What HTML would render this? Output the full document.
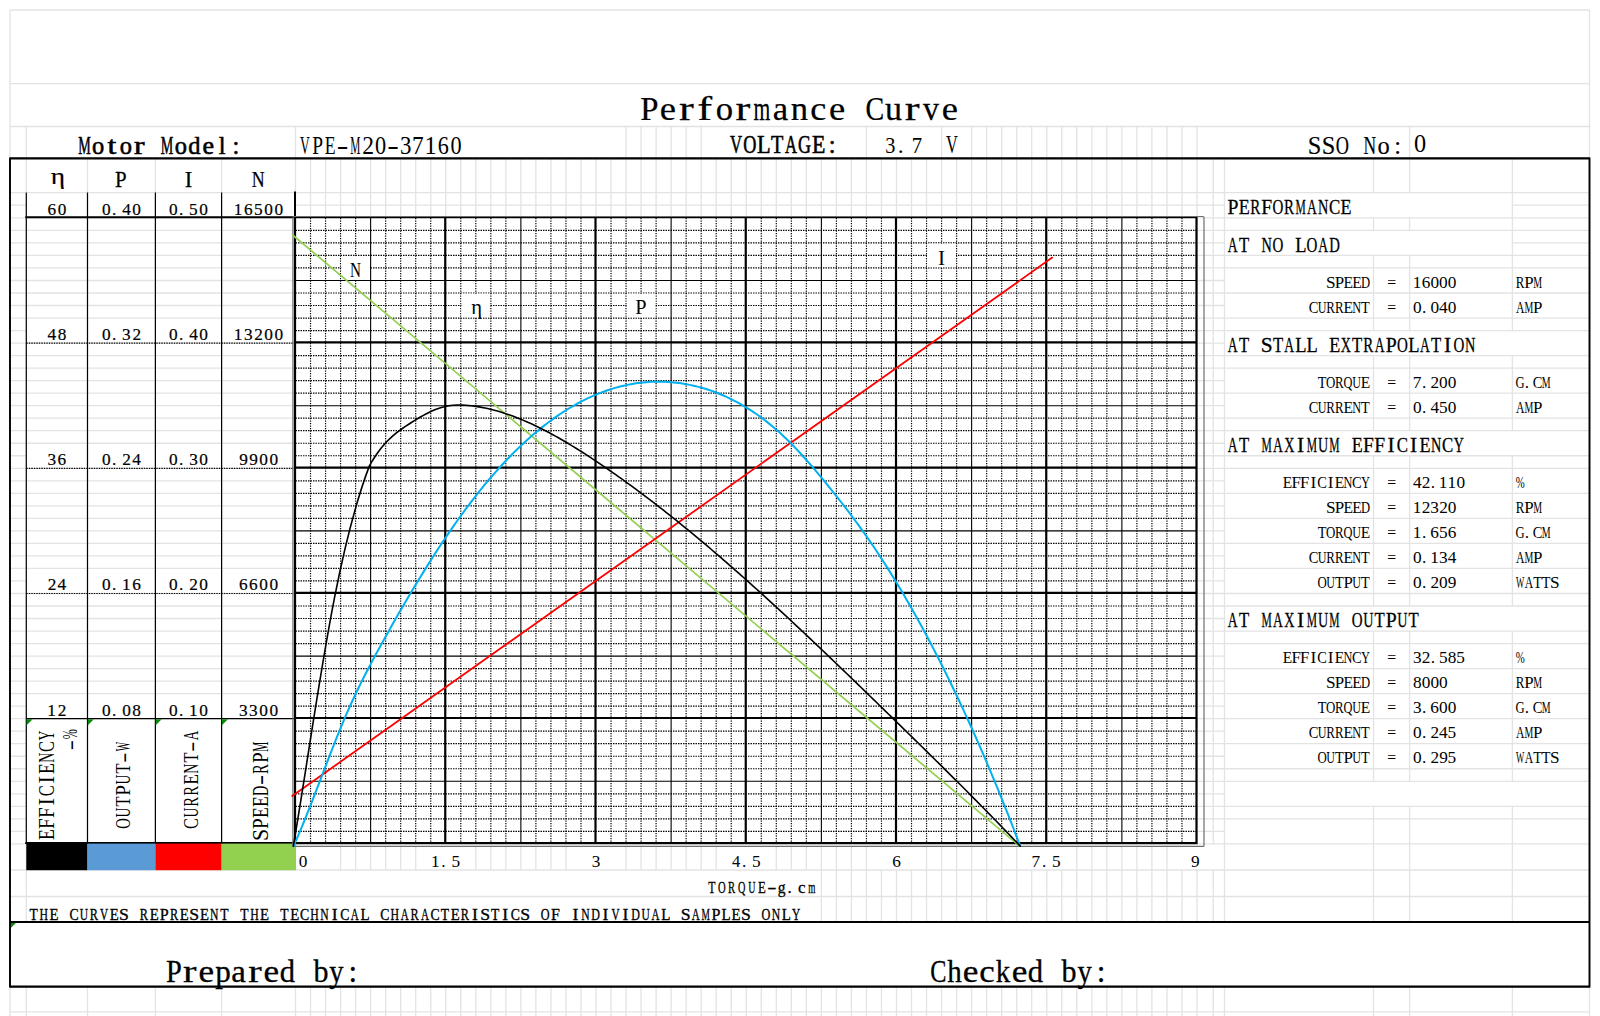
<!DOCTYPE html>
<html><head><meta charset="utf-8"><title>Performance Curve</title>
<style>html,body{margin:0;padding:0;background:#fff;overflow:hidden;font-family:"Liberation Serif",serif}svg{display:block}</style>
</head><body>
<svg width="1600" height="1016" viewBox="0 0 1600 1016"><path d="M10.00 10.00H1589.50 M10.00 83.70H1589.50 M10.00 126.50H1589.50 M10.00 158.40H1589.50 M10.00 192.60H1589.50 M10.00 205.20H26.30 M295.50 205.20H1224.50 M1512.40 205.20H1589.50 M10.00 217.88H295.50 M1197.00 217.88H1589.50 M10.00 230.40H295.50 M1197.00 230.40H1589.50 M10.00 242.92H295.50 M1197.00 242.92H1224.50 M1512.40 242.92H1589.50 M10.00 255.44H295.50 M1197.00 255.44H1589.50 M10.00 267.96H295.50 M1197.00 267.96H1589.50 M10.00 280.48H295.50 M1197.00 280.48H1224.50 M10.00 293.00H295.50 M1197.00 293.00H1589.50 M10.00 305.52H295.50 M1197.00 305.52H1224.50 M10.00 318.04H295.50 M1197.00 318.04H1589.50 M10.00 330.56H26.30 M1197.00 330.56H1589.50 M10.00 343.08H295.50 M1197.00 343.08H1224.50 M10.00 355.60H295.50 M1197.00 355.60H1589.50 M10.00 368.12H295.50 M1197.00 368.12H1589.50 M10.00 380.64H295.50 M1197.00 380.64H1224.50 M10.00 393.16H295.50 M1197.00 393.16H1589.50 M10.00 405.68H295.50 M1197.00 405.68H1224.50 M10.00 418.20H295.50 M1197.00 418.20H1589.50 M10.00 430.72H295.50 M1197.00 430.72H1589.50 M10.00 443.24H295.50 M1197.00 443.24H1224.50 M10.00 455.76H26.30 M1197.00 455.76H1589.50 M10.00 468.28H295.50 M1197.00 468.28H1589.50 M10.00 480.80H295.50 M1197.00 480.80H1224.50 M10.00 493.32H295.50 M1197.00 493.32H1589.50 M10.00 505.84H295.50 M1197.00 505.84H1224.50 M10.00 518.36H295.50 M1197.00 518.36H1589.50 M10.00 530.88H295.50 M1197.00 530.88H1224.50 M10.00 543.40H295.50 M1197.00 543.40H1589.50 M10.00 555.92H295.50 M1197.00 555.92H1224.50 M10.00 568.44H295.50 M1197.00 568.44H1589.50 M10.00 580.96H26.30 M1197.00 580.96H1224.50 M10.00 593.48H295.50 M1197.00 593.48H1589.50 M10.00 606.00H295.50 M1197.00 606.00H1589.50 M10.00 618.52H295.50 M1197.00 618.52H1224.50 M10.00 631.04H295.50 M1197.00 631.04H1589.50 M10.00 643.56H295.50 M1197.00 643.56H1589.50 M10.00 656.08H295.50 M1197.00 656.08H1224.50 M10.00 668.60H295.50 M1197.00 668.60H1589.50 M10.00 681.12H295.50 M1197.00 681.12H1224.50 M10.00 693.64H295.50 M1197.00 693.64H1589.50 M10.00 706.16H26.30 M1197.00 706.16H1224.50 M10.00 718.68H295.50 M1197.00 718.68H1589.50 M10.00 731.20H26.30 M1197.00 731.20H1224.50 M10.00 743.72H26.30 M1197.00 743.72H1589.50 M10.00 756.24H26.30 M1197.00 756.24H1224.50 M10.00 768.76H26.30 M1197.00 768.76H1589.50 M10.00 781.28H26.30 M1197.00 781.28H1589.50 M10.00 793.80H26.30 M1197.00 793.80H1224.50 M10.00 806.32H26.30 M1197.00 806.32H1589.50 M10.00 818.84H26.30 M1197.00 818.84H1589.50 M10.00 831.36H26.30 M1197.00 831.36H1224.50 M10.00 843.88H295.50 M1197.00 843.88H1589.50 M10.00 870.00H1589.50 M10.00 896.50H1589.50 M10.00 922.00H1589.50 M10.00 986.60H1589.50 M10.00 1011.80H1589.50 M10.00 10.00V1016.00 M26.30 126.50V922.00 M26.30 986.60V1016.00 M87.50 158.40V870.00 M87.50 986.60V1016.00 M155.40 158.40V870.00 M155.40 986.60V1016.00 M221.60 158.40V870.00 M221.60 986.60V1016.00 M295.50 126.50V870.00 M295.50 986.60V1016.00 M310.52 158.40V217.30 M310.52 986.60V1016.00 M325.55 158.40V217.30 M325.55 986.60V1016.00 M340.57 158.40V217.30 M340.57 845.38V870.00 M340.57 986.60V1016.00 M355.60 158.40V217.30 M355.60 845.38V870.00 M355.60 986.60V1016.00 M370.62 158.40V217.30 M370.62 845.38V870.00 M370.62 986.60V1016.00 M385.65 158.40V217.30 M385.65 845.38V870.00 M385.65 986.60V1016.00 M400.68 158.40V217.30 M400.68 845.38V870.00 M400.68 986.60V1016.00 M415.70 158.40V217.30 M415.70 845.38V870.00 M415.70 986.60V1016.00 M430.73 158.40V217.30 M430.73 986.60V1016.00 M445.75 158.40V217.30 M445.75 986.60V1016.00 M460.77 158.40V217.30 M460.77 986.60V1016.00 M475.80 158.40V217.30 M475.80 845.38V870.00 M475.80 986.60V1016.00 M490.83 158.40V217.30 M490.83 845.38V870.00 M490.83 986.60V1016.00 M505.85 158.40V217.30 M505.85 845.38V870.00 M505.85 986.60V1016.00 M520.88 158.40V217.30 M520.88 845.38V870.00 M520.88 986.60V1016.00 M535.90 158.40V217.30 M535.90 845.38V870.00 M535.90 986.60V1016.00 M550.92 158.40V217.30 M550.92 845.38V870.00 M550.92 986.60V1016.00 M565.95 158.40V217.30 M565.95 845.38V870.00 M565.95 986.60V1016.00 M580.98 158.40V217.30 M580.98 986.60V1016.00 M596.00 158.40V217.30 M596.00 986.60V1016.00 M611.03 158.40V217.30 M611.03 986.60V1016.00 M626.05 126.50V217.30 M626.05 845.38V870.00 M626.05 986.60V1016.00 M641.08 126.50V217.30 M641.08 845.38V870.00 M641.08 986.60V1016.00 M656.10 126.50V217.30 M656.10 845.38V870.00 M656.10 986.60V1016.00 M671.12 126.50V217.30 M671.12 845.38V870.00 M671.12 986.60V1016.00 M686.15 126.50V217.30 M686.15 845.38V870.00 M686.15 986.60V1016.00 M701.17 126.50V217.30 M701.17 845.38V870.00 M701.17 986.60V1016.00 M716.20 158.40V217.30 M716.20 845.38V870.00 M716.20 986.60V1016.00 M731.23 158.40V217.30 M731.23 986.60V1016.00 M746.25 158.40V217.30 M746.25 986.60V1016.00 M761.28 158.40V217.30 M761.28 986.60V1016.00 M776.30 158.40V217.30 M776.30 845.38V870.00 M776.30 986.60V1016.00 M791.33 158.40V217.30 M791.33 845.38V870.00 M791.33 986.60V1016.00 M806.35 158.40V217.30 M806.35 845.38V870.00 M806.35 986.60V1016.00 M821.38 158.40V217.30 M821.38 845.38V922.00 M821.38 986.60V1016.00 M836.40 158.40V217.30 M836.40 845.38V922.00 M836.40 986.60V1016.00 M851.43 158.40V217.30 M851.43 845.38V922.00 M851.43 986.60V1016.00 M866.45 126.50V217.30 M866.45 845.38V922.00 M866.45 986.60V1016.00 M881.48 158.40V217.30 M881.48 870.00V922.00 M881.48 986.60V1016.00 M896.50 158.40V217.30 M896.50 870.00V922.00 M896.50 986.60V1016.00 M911.52 158.40V217.30 M911.52 870.00V922.00 M911.52 986.60V1016.00 M926.55 158.40V217.30 M926.55 845.38V922.00 M926.55 986.60V1016.00 M941.58 126.50V217.30 M941.58 845.38V922.00 M941.58 986.60V1016.00 M956.60 158.40V217.30 M956.60 845.38V922.00 M956.60 986.60V1016.00 M971.62 126.50V217.30 M971.62 845.38V922.00 M971.62 986.60V1016.00 M986.65 126.50V217.30 M986.65 845.38V922.00 M986.65 986.60V1016.00 M1001.68 126.50V217.30 M1001.68 845.38V922.00 M1001.68 986.60V1016.00 M1016.70 126.50V217.30 M1016.70 845.38V922.00 M1016.70 986.60V1016.00 M1031.72 126.50V217.30 M1031.72 870.00V922.00 M1031.72 986.60V1016.00 M1046.75 126.50V217.30 M1046.75 870.00V922.00 M1046.75 986.60V1016.00 M1061.78 126.50V217.30 M1061.78 870.00V922.00 M1061.78 986.60V1016.00 M1076.80 126.50V217.30 M1076.80 845.38V922.00 M1076.80 986.60V1016.00 M1091.83 126.50V217.30 M1091.83 845.38V922.00 M1091.83 986.60V1016.00 M1106.85 126.50V217.30 M1106.85 845.38V922.00 M1106.85 986.60V1016.00 M1121.88 126.50V217.30 M1121.88 845.38V922.00 M1121.88 986.60V1016.00 M1136.90 126.50V217.30 M1136.90 845.38V922.00 M1136.90 986.60V1016.00 M1151.93 126.50V217.30 M1151.93 845.38V922.00 M1151.93 986.60V1016.00 M1166.95 126.50V217.30 M1166.95 845.38V922.00 M1166.95 986.60V1016.00 M1181.97 126.50V217.30 M1181.97 870.00V922.00 M1181.97 986.60V1016.00 M1197.00 126.50V843.88 M1197.00 870.00V922.00 M1197.00 986.60V1016.00 M1213.30 158.40V843.88 M1213.30 870.00V922.00 M1213.30 986.60V1016.00 M1224.50 158.40V922.00 M1224.50 986.60V1016.00 M1373.50 158.40V192.60 M1373.50 217.88V230.40 M1373.50 255.44V330.56 M1373.50 355.60V430.72 M1373.50 455.76V606.00 M1373.50 631.04V781.28 M1373.50 806.32V922.00 M1373.50 986.60V1016.00 M1409.60 126.50V192.60 M1409.60 217.88V230.40 M1409.60 255.44V330.56 M1409.60 355.60V430.72 M1409.60 455.76V606.00 M1409.60 631.04V781.28 M1409.60 806.32V922.00 M1409.60 986.60V1016.00 M1512.40 158.40V330.56 M1512.40 355.60V430.72 M1512.40 455.76V606.00 M1512.40 631.04V781.28 M1512.40 806.32V922.00 M1512.40 986.60V1016.00 M1589.50 10.00V1016.00" stroke="#e3e3e3" stroke-width="1.3" fill="none"/>
<path d="M310.52 217.88V843.88 M325.55 217.88V843.88 M340.57 217.88V843.88 M355.60 217.88V843.88 M385.65 217.88V843.88 M400.68 217.88V843.88 M415.70 217.88V843.88 M430.73 217.88V843.88 M460.77 217.88V843.88 M475.80 217.88V843.88 M490.83 217.88V843.88 M505.85 217.88V843.88 M535.90 217.88V843.88 M550.92 217.88V843.88 M565.95 217.88V843.88 M580.98 217.88V843.88 M611.03 217.88V843.88 M626.05 217.88V843.88 M641.08 217.88V843.88 M656.10 217.88V843.88 M686.15 217.88V843.88 M701.17 217.88V843.88 M716.20 217.88V843.88 M731.23 217.88V843.88 M761.28 217.88V843.88 M776.30 217.88V843.88 M791.33 217.88V843.88 M806.35 217.88V843.88 M836.40 217.88V843.88 M851.43 217.88V843.88 M866.45 217.88V843.88 M881.48 217.88V843.88 M911.52 217.88V843.88 M926.55 217.88V843.88 M941.58 217.88V843.88 M956.60 217.88V843.88 M986.65 217.88V843.88 M1001.68 217.88V843.88 M1016.70 217.88V843.88 M1031.72 217.88V843.88 M1061.78 217.88V843.88 M1076.80 217.88V843.88 M1091.83 217.88V843.88 M1106.85 217.88V843.88 M1136.90 217.88V843.88 M1151.93 217.88V843.88 M1166.95 217.88V843.88 M1181.97 217.88V843.88" stroke="#000" stroke-width="1.2" stroke-dasharray="1.45 1.05" fill="none"/>
<path d="M295.50 230.40H1197.00 M295.50 242.92H1197.00 M295.50 255.44H1197.00 M295.50 267.96H1197.00 M295.50 293.00H1197.00 M295.50 305.52H1197.00 M295.50 318.04H1197.00 M295.50 330.56H1197.00 M295.50 355.60H1197.00 M295.50 368.12H1197.00 M295.50 380.64H1197.00 M295.50 393.16H1197.00 M295.50 418.20H1197.00 M295.50 430.72H1197.00 M295.50 443.24H1197.00 M295.50 455.76H1197.00 M295.50 480.80H1197.00 M295.50 493.32H1197.00 M295.50 505.84H1197.00 M295.50 518.36H1197.00 M295.50 543.40H1197.00 M295.50 555.92H1197.00 M295.50 568.44H1197.00 M295.50 580.96H1197.00 M295.50 606.00H1197.00 M295.50 618.52H1197.00 M295.50 631.04H1197.00 M295.50 643.56H1197.00 M295.50 668.60H1197.00 M295.50 681.12H1197.00 M295.50 693.64H1197.00 M295.50 706.16H1197.00 M295.50 731.20H1197.00 M295.50 743.72H1197.00 M295.50 756.24H1197.00 M295.50 768.76H1197.00 M295.50 793.80H1197.00 M295.50 806.32H1197.00 M295.50 818.84H1197.00 M295.50 831.36H1197.00" stroke="#000" stroke-width="1.2" stroke-dasharray="1.45 1.05" fill="none"/>
<rect x="341.27" y="256.14" width="28.65" height="23.64" fill="#fff"/>
<rect x="461.47" y="293.70" width="28.65" height="23.64" fill="#fff"/>
<rect x="626.75" y="293.70" width="28.65" height="23.64" fill="#fff"/>
<rect x="927.25" y="243.62" width="28.65" height="23.64" fill="#fff"/>
<path d="M370.62 217.88V843.88 M520.88 217.88V843.88 M671.12 217.88V843.88 M821.38 217.88V843.88 M971.62 217.88V843.88 M1121.88 217.88V843.88 M295.50 280.48H1197.00 M295.50 405.68H1197.00 M295.50 530.88H1197.00 M295.50 656.08H1197.00 M295.50 781.28H1197.00" stroke="#000" stroke-width="1.1" fill="none"/>
<path d="M295.00 216.18V844.18 M445.25 216.18V844.18 M595.50 216.18V844.18 M745.75 216.18V844.18 M896.00 216.18V844.18 M1046.25 216.18V844.18 M1196.50 216.18V844.18 M294.00 217.18H1197.50 M294.00 342.38H1197.50 M294.00 467.58H1197.50 M294.00 592.78H1197.50 M294.00 717.98H1197.50 M294.00 843.10H1197.50" stroke="#000" stroke-width="2.2" fill="none"/>
<path d="M26.3 192.6V843.88 M87.5 192.6V843.88 M155.4 192.6V843.88 M221.6 192.6V843.88" stroke="#000" stroke-width="1.2" fill="none"/>
<path d="M295.0 191.6V217.88 M25.3 217.18H296.0 M25.3 843.1H296.0" stroke="#000" stroke-width="2.0" fill="none"/>
<path d="M26.3 343.08H295.5 M26.3 468.28H295.5 M26.3 593.48H295.5" stroke="#000" stroke-width="1.2" stroke-dasharray="1.45 1.05" fill="none"/>
<path d="M26.3 718.68H295.5" stroke="#000" stroke-width="1.3" fill="none"/>
<rect x="26.3" y="843.60" width="61.20" height="26.60" fill="#000000"/>
<rect x="87.5" y="843.60" width="67.90" height="26.60" fill="#5b9bd5"/>
<rect x="155.4" y="843.60" width="66.20" height="26.60" fill="#ff0000"/>
<rect x="221.6" y="843.60" width="74.40" height="26.60" fill="#92d050"/>
<path d="M26.60 719.28h6l-6 6z" fill="#078a07"/>
<path d="M87.80 719.28h6l-6 6z" fill="#078a07"/>
<path d="M155.70 719.28h6l-6 6z" fill="#078a07"/>
<path d="M221.90 719.28h6l-6 6z" fill="#078a07"/>
<path d="M10.30 922.60h6l-6 6z" fill="#078a07"/>
<rect x="292.9" y="216.5" width="911.1" height="629.9" rx="1" fill="none" stroke="#6e6e6e" stroke-width="1.2"/>
<path d="M10 158.4H1589.5 M10 922H1589.5 M10 986.6H1589.5" stroke="#000" stroke-width="2.2" fill="none"/>
<path d="M10 157.4V987.6 M1589.5 157.4V987.6" stroke="#000" stroke-width="1.9" fill="none"/>
<g fill="none" stroke-linecap="round" stroke-linejoin="round">
<path d="M292.6 235L1019.5 846.0" stroke="#92d050" stroke-width="1.7"/>
<path d="M292.2 796.0L1052.2 257.6" stroke="#ff0000" stroke-width="1.8"/>
<path d="M293.50 846.20 L296.00 840.60 L298.50 834.84 L301.00 828.92 L303.50 822.87 L306.00 816.71 L308.50 810.44 L311.00 804.09 L313.50 797.67 L316.00 791.19 L318.50 784.68 L321.00 778.15 L323.50 771.61 L326.00 765.09 L328.50 758.59 L331.00 752.14 L333.50 745.74 L336.00 739.42 L338.50 733.20 L341.00 727.08 L343.50 721.08 L346.00 715.23 L348.50 709.52 L351.00 703.95 L353.50 698.51 L356.00 693.20 L358.50 688.00 L361.00 682.91 L363.50 677.91 L366.00 673.00 L368.50 668.17 L371.00 663.41 L373.50 658.71 L376.00 654.07 L378.50 649.47 L381.00 644.91 L383.50 640.39 L386.00 635.90 L388.50 631.43 L391.00 626.99 L393.50 622.57 L396.00 618.18 L398.50 613.82 L401.00 609.49 L403.50 605.19 L406.00 600.91 L408.50 596.67 L411.00 592.46 L413.50 588.28 L416.00 584.13 L418.50 580.01 L421.00 575.93 L423.50 571.87 L426.00 567.86 L428.50 563.88 L431.00 559.93 L433.50 556.02 L436.00 552.15 L438.50 548.31 L441.00 544.51 L443.50 540.75 L446.00 537.03 L448.50 533.34 L451.00 529.70 L453.50 526.10 L456.00 522.53 L458.50 519.01 L461.00 515.54 L463.50 512.10 L466.00 508.71 L468.50 505.36 L471.00 502.05 L473.50 498.80 L476.00 495.58 L478.50 492.41 L481.00 489.29 L483.50 486.22 L486.00 483.19 L488.50 480.21 L491.00 477.27 L493.50 474.38 L496.00 471.54 L498.50 468.74 L501.00 465.99 L503.50 463.28 L506.00 460.62 L508.50 458.01 L511.00 455.44 L513.50 452.91 L516.00 450.44 L518.50 448.00 L521.00 445.62 L523.50 443.27 L526.00 440.98 L528.50 438.72 L531.00 436.51 L533.50 434.35 L536.00 432.23 L538.50 430.16 L541.00 428.13 L543.50 426.15 L546.00 424.21 L548.50 422.31 L551.00 420.46 L553.50 418.66 L556.00 416.89 L558.50 415.17 L561.00 413.50 L563.50 411.87 L566.00 410.28 L568.50 408.74 L571.00 407.24 L573.50 405.78 L576.00 404.37 L578.50 403.00 L581.00 401.68 L583.50 400.40 L586.00 399.16 L588.50 397.96 L591.00 396.81 L593.50 395.70 L596.00 394.63 L598.50 393.61 L601.00 392.63 L603.50 391.69 L606.00 390.79 L608.50 389.94 L611.00 389.13 L613.50 388.36 L616.00 387.63 L618.50 386.95 L621.00 386.31 L623.50 385.71 L626.00 385.15 L628.50 384.63 L631.00 384.16 L633.50 383.73 L636.00 383.34 L638.50 382.99 L641.00 382.68 L643.50 382.41 L646.00 382.19 L648.50 382.01 L651.00 381.86 L653.50 381.76 L656.00 381.70 L658.50 381.68 L661.00 381.70 L663.50 381.77 L666.00 381.87 L668.50 382.01 L671.00 382.20 L673.50 382.42 L676.00 382.69 L678.50 382.99 L681.00 383.34 L683.50 383.73 L686.00 384.15 L688.50 384.62 L691.00 385.13 L693.50 385.67 L696.00 386.26 L698.50 386.89 L701.00 387.56 L703.50 388.27 L706.00 389.02 L708.50 389.82 L711.00 390.66 L713.50 391.55 L716.00 392.48 L718.50 393.45 L721.00 394.47 L723.50 395.53 L726.00 396.65 L728.50 397.81 L731.00 399.01 L733.50 400.27 L736.00 401.57 L738.50 402.92 L741.00 404.32 L743.50 405.77 L746.00 407.27 L748.50 408.82 L751.00 410.43 L753.50 412.08 L756.00 413.79 L758.50 415.55 L761.00 417.36 L763.50 419.23 L766.00 421.15 L768.50 423.13 L771.00 425.16 L773.50 427.24 L776.00 429.39 L778.50 431.59 L781.00 433.84 L783.50 436.16 L786.00 438.53 L788.50 440.96 L791.00 443.45 L793.50 446.00 L796.00 448.60 L798.50 451.26 L801.00 453.97 L803.50 456.73 L806.00 459.53 L808.50 462.38 L811.00 465.26 L813.50 468.19 L816.00 471.14 L818.50 474.13 L821.00 477.14 L823.50 480.18 L826.00 483.24 L828.50 486.31 L831.00 489.41 L833.50 492.52 L836.00 495.66 L838.50 498.82 L841.00 502.00 L843.50 505.21 L846.00 508.44 L848.50 511.71 L851.00 515.01 L853.50 518.35 L856.00 521.73 L858.50 525.14 L861.00 528.59 L863.50 532.09 L866.00 535.64 L868.50 539.23 L871.00 542.86 L873.50 546.54 L876.00 550.27 L878.50 554.05 L881.00 557.87 L883.50 561.74 L886.00 565.65 L888.50 569.61 L891.00 573.62 L893.50 577.67 L896.00 581.77 L898.50 585.91 L901.00 590.10 L903.50 594.34 L906.00 598.63 L908.50 602.96 L911.00 607.34 L913.50 611.76 L916.00 616.24 L918.50 620.75 L921.00 625.32 L923.50 629.93 L926.00 634.59 L928.50 639.30 L931.00 644.05 L933.50 648.85 L936.00 653.70 L938.50 658.59 L941.00 663.53 L943.50 668.52 L946.00 673.56 L948.50 678.64 L951.00 683.77 L953.50 688.95 L956.00 694.17 L958.50 699.45 L961.00 704.77 L963.50 710.13 L966.00 715.55 L968.50 721.02 L971.00 726.53 L973.50 732.10 L976.00 737.72 L978.50 743.39 L981.00 749.11 L983.50 754.88 L986.00 760.71 L988.50 766.59 L991.00 772.53 L993.50 778.52 L996.00 784.57 L998.50 790.67 L1001.00 796.83 L1003.50 803.05 L1006.00 809.33 L1008.50 815.66 L1011.00 822.05 L1013.50 828.51 L1016.00 835.02 L1018.50 841.60 L1020.20 846.10" stroke="#00b0f0" stroke-width="2.0"/>
<path d="M293.3 846.2 C315.5 716.82 333.21 560.85 369.4 465.9 L372.40 460.72 L375.40 456.00 L378.40 451.71 L381.40 447.81 L384.40 444.27 L387.40 441.05 L390.40 438.11 L393.40 435.42 L396.40 432.95 L399.40 430.65 L402.40 428.50 L405.40 426.45 L408.40 424.48 L411.40 422.54 L414.40 420.65 L417.40 418.80 L420.40 417.03 L423.40 415.33 L426.40 413.72 L429.40 412.22 L432.40 410.83 L435.40 409.57 L438.40 408.44 L441.40 407.47 L444.40 406.66 L447.40 406.02 L450.40 405.55 L453.40 405.24 L456.40 405.06 L459.40 405.01 L462.40 405.08 L465.40 405.24 L468.40 405.48 L471.40 405.80 L474.40 406.18 L477.40 406.62 L480.40 407.12 L483.40 407.69 L486.40 408.31 L489.40 408.98 L492.40 409.72 L495.40 410.50 L498.40 411.34 L501.40 412.24 L504.40 413.18 L507.40 414.18 L510.40 415.23 L513.40 416.32 L516.40 417.46 L519.40 418.65 L522.40 419.88 L525.40 421.16 L528.40 422.48 L531.40 423.84 L534.40 425.24 L537.40 426.68 L540.40 428.16 L543.40 429.67 L546.40 431.22 L549.40 432.81 L552.40 434.43 L555.40 436.09 L558.40 437.77 L561.40 439.49 L564.40 441.24 L567.40 443.01 L570.40 444.82 L573.40 446.65 L576.40 448.50 L579.40 450.38 L582.40 452.28 L585.40 454.20 L588.40 456.15 L591.40 458.11 L594.40 460.09 L597.40 462.09 L600.40 464.11 L603.40 466.15 L606.40 468.20 L609.40 470.27 L612.40 472.35 L615.40 474.45 L618.40 476.57 L621.40 478.71 L624.40 480.86 L627.40 483.03 L630.40 485.21 L633.40 487.41 L636.40 489.62 L639.40 491.85 L642.40 494.09 L645.40 496.35 L648.40 498.63 L651.40 500.92 L654.40 503.22 L657.40 505.54 L660.40 507.87 L663.40 510.21 L666.40 512.57 L669.40 514.95 L672.40 517.33 L675.40 519.73 L678.40 522.15 L681.40 524.57 L684.40 527.01 L687.40 529.46 L690.40 531.93 L693.40 534.40 L696.40 536.89 L699.40 539.39 L702.40 541.91 L705.40 544.43 L708.40 546.97 L711.40 549.51 L714.40 552.07 L717.40 554.64 L720.40 557.22 L723.40 559.81 L726.40 562.42 L729.40 565.03 L732.40 567.65 L735.40 570.28 L738.40 572.93 L741.40 575.58 L744.40 578.24 L747.40 580.91 L750.40 583.59 L753.40 586.28 L756.40 588.98 L759.40 591.69 L762.40 594.40 L765.40 597.13 L768.40 599.86 L771.40 602.60 L774.40 605.35 L777.40 608.11 L780.40 610.87 L783.40 613.64 L786.40 616.42 L789.40 619.21 L792.40 622.00 L795.40 624.80 L798.40 627.61 L801.40 630.42 L804.40 633.24 L807.40 636.06 L810.40 638.89 L813.40 641.73 L816.40 644.57 L819.40 647.42 L822.40 650.27 L825.40 653.13 L828.40 655.99 L831.40 658.86 L834.40 661.73 L837.40 664.60 L840.40 667.48 L843.40 670.37 L846.40 673.25 L849.40 676.14 L852.40 679.04 L855.40 681.94 L858.40 684.84 L861.40 687.74 L864.40 690.65 L867.40 693.56 L870.40 696.47 L873.40 699.38 L876.40 702.30 L879.40 705.22 L882.40 708.14 L885.40 711.06 L888.40 713.98 L891.40 716.91 L894.40 719.83 L897.40 722.76 L900.40 725.68 L903.40 728.61 L906.40 731.54 L909.40 734.47 L912.40 737.41 L915.40 740.34 L918.40 743.28 L921.40 746.22 L924.40 749.16 L927.40 752.11 L930.40 755.06 L933.40 758.01 L936.40 760.97 L939.40 763.93 L942.40 766.90 L945.40 769.87 L948.40 772.84 L951.40 775.82 L954.40 778.81 L957.40 781.80 L960.40 784.80 L963.40 787.80 L966.40 790.81 L969.40 793.83 L972.40 796.85 L975.40 799.88 L978.40 802.91 L981.40 805.96 L984.40 809.01 L987.40 812.07 L990.40 815.14 L993.40 818.21 L996.40 821.30 L999.40 824.39 L1002.40 827.49 L1005.40 830.60 L1008.40 833.73 L1011.40 836.86 L1014.40 840.00 L1017.40 843.15 L1020.20 846.10" stroke="#000" stroke-width="1.6"/>
</g>
<g font-family="&quot;Liberation Serif&quot;, serif" font-size="34.67" font-weight="normal" stroke="#000" stroke-width="0.25"><text transform="translate(640.17,119.70) scale(0.946,1)">P</text><text transform="translate(659.70,119.70) scale(1.055,1)">e</text><text transform="translate(679.04,119.70) scale(1.284,1)">r</text><text transform="translate(697.35,119.70) scale(1.292,1)">f</text><text x="715.63" y="119.70">o</text><text transform="translate(735.44,119.70) scale(1.284,1)">r</text><text transform="translate(753.46,119.70) scale(0.622,1)">m</text><text x="772.63" y="119.70">a</text><text transform="translate(790.72,119.70) scale(0.998,1)">n</text><text transform="translate(810.16,119.70) scale(1.041,1)">c</text><text transform="translate(828.90,119.70) scale(1.055,1)">e</text><text transform="translate(865.56,119.70) scale(0.808,1)">C</text><text transform="translate(885.06,119.70) scale(0.981,1)">u</text><text transform="translate(904.64,119.70) scale(1.284,1)">r</text><text transform="translate(923.11,119.70) scale(0.922,1)">v</text><text transform="translate(941.70,119.70) scale(1.055,1)">e</text></g>
<g font-family="&quot;Liberation Serif&quot;, serif" font-size="24.43" font-weight="normal" stroke="#000" stroke-width="0.55"><text transform="translate(78.14,153.60) scale(0.577,1)">M</text><text x="92.07" y="153.60">o</text><text transform="translate(107.49,153.60) scale(1.300,1)">t</text><text x="119.63" y="153.60">o</text><text transform="translate(134.06,153.60) scale(1.298,1)">r</text><text transform="translate(160.82,153.60) scale(0.577,1)">M</text><text x="174.75" y="153.60">o</text><text x="188.24" y="153.60">d</text><text transform="translate(202.58,153.60) scale(1.067,1)">e</text><text x="218.81" y="153.60">l</text><text x="232.61" y="153.60">:</text></g>
<g font-family="&quot;Liberation Serif&quot;, serif" font-size="24.28" font-weight="normal"><text transform="translate(300.02,153.50) scale(0.556,1)">V</text><text transform="translate(312.22,153.50) scale(0.799,1)">P</text><text transform="translate(324.86,153.50) scale(0.731,1)">E</text><text transform="translate(336.87,153.50) scale(1.438,1)">-</text><text transform="translate(350.25,153.50) scale(0.468,1)">M</text><text transform="translate(362.14,153.50) scale(0.971,1)">2</text><text transform="translate(374.93,153.50) scale(0.918,1)">0</text><text transform="translate(387.27,153.50) scale(1.438,1)">-</text><text transform="translate(399.88,153.50) scale(0.942,1)">3</text><text transform="translate(412.04,153.50) scale(0.960,1)">7</text><text x="424.49" y="153.50">1</text><text transform="translate(437.82,153.50) scale(0.911,1)">6</text><text transform="translate(450.53,153.50) scale(0.918,1)">0</text></g>
<g font-family="&quot;Liberation Serif&quot;, serif" font-size="24.43" font-weight="normal" stroke="#000" stroke-width="0.55"><text transform="translate(729.98,153.10) scale(0.683,1)">V</text><text transform="translate(743.15,153.10) scale(0.746,1)">O</text><text transform="translate(756.98,153.10) scale(0.915,1)">L</text><text transform="translate(770.99,153.10) scale(0.829,1)">T</text><text transform="translate(784.92,153.10) scale(0.677,1)">A</text><text transform="translate(798.08,153.10) scale(0.735,1)">G</text><text transform="translate(811.91,153.10) scale(0.897,1)">E</text><text x="828.74" y="153.10">:</text></g>
<g font-family="&quot;Liberation Serif&quot;, serif" font-size="23.67" font-weight="normal"><text transform="translate(885.15,152.60) scale(0.856,1)">3</text><text x="897.87" y="152.60">.</text><text transform="translate(911.75,152.60) scale(0.872,1)">7</text></g>
<g font-family="&quot;Liberation Serif&quot;, serif" font-size="24.13" font-weight="normal"><text transform="translate(946.08,153.10) scale(0.680,1)">V</text></g>
<g font-family="&quot;Liberation Serif&quot;, serif" font-size="24.43" font-weight="normal" stroke="#000" stroke-width="0.15"><text x="1307.85" y="153.50">S</text><text x="1321.65" y="153.50">S</text><text transform="translate(1335.68,153.50) scale(0.750,1)">O</text><text transform="translate(1363.53,153.50) scale(0.716,1)">N</text><text x="1377.59" y="153.50">o</text><text x="1394.13" y="153.50">:</text></g>
<g font-family="&quot;Liberation Serif&quot;, serif" font-size="24.28" font-weight="normal"><text x="1413.93" y="152.00">0</text></g>
<g font-family="&quot;Liberation Serif&quot;, serif" font-size="23.82" font-weight="normal" stroke="#000" stroke-width="0.2"><text transform="translate(50.64,184.00) scale(1.150,1)">η</text></g>
<g font-family="&quot;Liberation Serif&quot;, serif" font-size="22.60" font-weight="normal" stroke="#000" stroke-width="0.25"><text transform="translate(114.95,187.10) scale(0.926,1)">P</text></g>
<g font-family="&quot;Liberation Serif&quot;, serif" font-size="22.60" font-weight="normal" stroke="#000" stroke-width="0.25"><text x="184.68" y="187.10">I</text></g>
<g font-family="&quot;Liberation Serif&quot;, serif" font-size="22.60" font-weight="normal" stroke="#000" stroke-width="0.25"><text transform="translate(251.73,187.10) scale(0.792,1)">N</text></g>
<g font-family="&quot;Liberation Serif&quot;, serif" font-size="17.26" font-weight="normal" stroke="#000" stroke-width="0.2"><text x="47.42" y="214.70">6</text><text x="57.64" y="214.70">0</text></g>
<g font-family="&quot;Liberation Serif&quot;, serif" font-size="17.26" font-weight="normal" stroke="#000" stroke-width="0.2"><text x="101.99" y="214.70">0</text><text x="112.02" y="214.70">.</text><text x="122.15" y="214.70">4</text><text x="132.29" y="214.70">0</text></g>
<g font-family="&quot;Liberation Serif&quot;, serif" font-size="17.26" font-weight="normal" stroke="#000" stroke-width="0.2"><text x="169.04" y="214.70">0</text><text x="179.07" y="214.70">.</text><text x="189.07" y="214.70">5</text><text x="199.34" y="214.70">0</text></g>
<g font-family="&quot;Liberation Serif&quot;, serif" font-size="17.26" font-weight="normal" stroke="#000" stroke-width="0.2"><text x="233.80" y="214.70">1</text><text x="244.02" y="214.70">6</text><text x="254.07" y="214.70">5</text><text x="264.34" y="214.70">0</text><text x="274.44" y="214.70">0</text></g>
<g font-family="&quot;Liberation Serif&quot;, serif" font-size="17.26" font-weight="normal" stroke="#000" stroke-width="0.2"><text x="47.50" y="339.90">4</text><text x="57.64" y="339.90">8</text></g>
<g font-family="&quot;Liberation Serif&quot;, serif" font-size="17.26" font-weight="normal" stroke="#000" stroke-width="0.2"><text x="101.99" y="339.90">0</text><text x="112.02" y="339.90">.</text><text x="122.11" y="339.90">3</text><text x="132.38" y="339.90">2</text></g>
<g font-family="&quot;Liberation Serif&quot;, serif" font-size="17.26" font-weight="normal" stroke="#000" stroke-width="0.2"><text x="169.04" y="339.90">0</text><text x="179.07" y="339.90">.</text><text x="189.20" y="339.90">4</text><text x="199.34" y="339.90">0</text></g>
<g font-family="&quot;Liberation Serif&quot;, serif" font-size="17.26" font-weight="normal" stroke="#000" stroke-width="0.2"><text x="233.80" y="339.90">1</text><text x="244.06" y="339.90">3</text><text x="254.33" y="339.90">2</text><text x="264.34" y="339.90">0</text><text x="274.44" y="339.90">0</text></g>
<g font-family="&quot;Liberation Serif&quot;, serif" font-size="17.26" font-weight="normal" stroke="#000" stroke-width="0.2"><text x="47.46" y="465.10">3</text><text x="57.52" y="465.10">6</text></g>
<g font-family="&quot;Liberation Serif&quot;, serif" font-size="17.26" font-weight="normal" stroke="#000" stroke-width="0.2"><text x="101.99" y="465.10">0</text><text x="112.02" y="465.10">.</text><text x="122.28" y="465.10">2</text><text x="132.25" y="465.10">4</text></g>
<g font-family="&quot;Liberation Serif&quot;, serif" font-size="17.26" font-weight="normal" stroke="#000" stroke-width="0.2"><text x="169.04" y="465.10">0</text><text x="179.07" y="465.10">.</text><text x="189.16" y="465.10">3</text><text x="199.34" y="465.10">0</text></g>
<g font-family="&quot;Liberation Serif&quot;, serif" font-size="17.26" font-weight="normal" stroke="#000" stroke-width="0.2"><text x="239.16" y="465.10">9</text><text x="249.26" y="465.10">9</text><text x="259.29" y="465.10">0</text><text x="269.39" y="465.10">0</text></g>
<g font-family="&quot;Liberation Serif&quot;, serif" font-size="17.26" font-weight="normal" stroke="#000" stroke-width="0.2"><text x="47.63" y="590.30">2</text><text x="57.60" y="590.30">4</text></g>
<g font-family="&quot;Liberation Serif&quot;, serif" font-size="17.26" font-weight="normal" stroke="#000" stroke-width="0.2"><text x="101.99" y="590.30">0</text><text x="112.02" y="590.30">.</text><text x="121.95" y="590.30">1</text><text x="132.17" y="590.30">6</text></g>
<g font-family="&quot;Liberation Serif&quot;, serif" font-size="17.26" font-weight="normal" stroke="#000" stroke-width="0.2"><text x="169.04" y="590.30">0</text><text x="179.07" y="590.30">.</text><text x="189.33" y="590.30">2</text><text x="199.34" y="590.30">0</text></g>
<g font-family="&quot;Liberation Serif&quot;, serif" font-size="17.26" font-weight="normal" stroke="#000" stroke-width="0.2"><text x="238.97" y="590.30">6</text><text x="249.07" y="590.30">6</text><text x="259.29" y="590.30">0</text><text x="269.39" y="590.30">0</text></g>
<g font-family="&quot;Liberation Serif&quot;, serif" font-size="17.26" font-weight="normal" stroke="#000" stroke-width="0.2"><text x="47.30" y="715.50">1</text><text x="57.73" y="715.50">2</text></g>
<g font-family="&quot;Liberation Serif&quot;, serif" font-size="17.26" font-weight="normal" stroke="#000" stroke-width="0.2"><text x="101.99" y="715.50">0</text><text x="112.02" y="715.50">.</text><text x="122.19" y="715.50">0</text><text x="132.29" y="715.50">8</text></g>
<g font-family="&quot;Liberation Serif&quot;, serif" font-size="17.26" font-weight="normal" stroke="#000" stroke-width="0.2"><text x="169.04" y="715.50">0</text><text x="179.07" y="715.50">.</text><text x="189.00" y="715.50">1</text><text x="199.34" y="715.50">0</text></g>
<g font-family="&quot;Liberation Serif&quot;, serif" font-size="17.26" font-weight="normal" stroke="#000" stroke-width="0.2"><text x="239.01" y="715.50">3</text><text x="249.11" y="715.50">3</text><text x="259.29" y="715.50">0</text><text x="269.39" y="715.50">0</text></g>
<g font-family="&quot;Liberation Serif&quot;, serif" font-size="22.45" font-weight="normal" transform="translate(53.80,840.40) rotate(-90)"><text transform="translate(0.32,0.00) scale(0.785,1)">E</text><text transform="translate(11.31,0.00) scale(0.850,1)">F</text><text transform="translate(22.34,0.00) scale(0.850,1)">F</text><text x="34.86" y="0.00">I</text><text transform="translate(44.27,0.00) scale(0.732,1)">C</text><text x="56.92" y="0.00">I</text><text transform="translate(66.50,0.00) scale(0.785,1)">E</text><text transform="translate(77.63,0.00) scale(0.623,1)">N</text><text transform="translate(88.39,0.00) scale(0.732,1)">C</text><text transform="translate(99.94,0.00) scale(0.609,1)">Y</text></g>
<g font-family="&quot;Liberation Serif&quot;, serif" font-size="20.62" font-weight="normal" transform="translate(77.20,750.60) rotate(-90)"><text transform="translate(0.41,0.00) scale(1.483,1)">-</text><text transform="translate(11.44,0.00) scale(0.595,1)">%</text></g>
<g font-family="&quot;Liberation Serif&quot;, serif" font-size="21.99" font-weight="normal" transform="translate(130.00,829.05) rotate(-90)"><text transform="translate(0.23,0.00) scale(0.664,1)">O</text><text transform="translate(11.54,0.00) scale(0.625,1)">U</text><text transform="translate(22.53,0.00) scale(0.738,1)">T</text><text transform="translate(33.27,0.00) scale(0.872,1)">P</text><text transform="translate(44.54,0.00) scale(0.625,1)">U</text><text transform="translate(55.53,0.00) scale(0.738,1)">T</text><text transform="translate(66.41,0.00) scale(1.386,1)">-</text><text transform="translate(77.82,0.00) scale(0.452,1)">W</text></g>
<g font-family="&quot;Liberation Serif&quot;, serif" font-size="21.99" font-weight="normal" transform="translate(197.50,829.05) rotate(-90)"><text transform="translate(0.15,0.00) scale(0.745,1)">C</text><text transform="translate(11.54,0.00) scale(0.625,1)">U</text><text transform="translate(22.40,0.00) scale(0.668,1)">R</text><text transform="translate(33.40,0.00) scale(0.668,1)">R</text><text transform="translate(44.32,0.00) scale(0.799,1)">E</text><text transform="translate(55.42,0.00) scale(0.634,1)">N</text><text transform="translate(66.53,0.00) scale(0.738,1)">T</text><text transform="translate(77.41,0.00) scale(1.386,1)">-</text><text transform="translate(88.70,0.00) scale(0.603,1)">A</text></g>
<g font-family="&quot;Liberation Serif&quot;, serif" font-size="22.30" font-weight="normal" transform="translate(268.10,840.30) rotate(-90)"><text transform="translate(-0.64,0.00) scale(0.981,1)">S</text><text transform="translate(11.27,0.00) scale(0.861,1)">P</text><text transform="translate(22.32,0.00) scale(0.788,1)">E</text><text transform="translate(33.32,0.00) scale(0.788,1)">E</text><text transform="translate(44.41,0.00) scale(0.642,1)">D</text><text transform="translate(55.41,0.00) scale(1.367,1)">-</text><text transform="translate(66.40,0.00) scale(0.659,1)">R</text><text transform="translate(77.27,0.00) scale(0.861,1)">P</text><text transform="translate(88.50,0.00) scale(0.505,1)">M</text></g>
<g font-family="&quot;Liberation Serif&quot;, serif" font-size="20.62" font-weight="normal"><text transform="translate(349.96,277.00) scale(0.738,1)">N</text></g>
<g font-family="&quot;Liberation Serif&quot;, serif" font-size="20.62" font-weight="normal"><text x="471.19" y="314.00">η</text></g>
<g font-family="&quot;Liberation Serif&quot;, serif" font-size="20.31" font-weight="normal"><text x="635.17" y="314.40">P</text></g>
<g font-family="&quot;Liberation Serif&quot;, serif" font-size="21.08" font-weight="normal"><text x="937.88" y="264.80">I</text></g>
<g font-family="&quot;Liberation Serif&quot;, serif" font-size="17.26" font-weight="normal"><text x="298.79" y="866.80">0</text></g>
<g font-family="&quot;Liberation Serif&quot;, serif" font-size="17.26" font-weight="normal"><text x="431.00" y="866.80">1</text><text x="441.35" y="866.80">.</text><text x="451.47" y="866.80">5</text></g>
<g font-family="&quot;Liberation Serif&quot;, serif" font-size="17.26" font-weight="normal"><text x="591.81" y="866.80">3</text></g>
<g font-family="&quot;Liberation Serif&quot;, serif" font-size="17.26" font-weight="normal"><text transform="translate(731.95,866.80) scale(0.954,1)">4</text><text x="741.90" y="866.80">.</text><text x="752.02" y="866.80">5</text></g>
<g font-family="&quot;Liberation Serif&quot;, serif" font-size="17.26" font-weight="normal"><text x="892.17" y="866.80">6</text></g>
<g font-family="&quot;Liberation Serif&quot;, serif" font-size="17.26" font-weight="normal"><text x="1031.57" y="866.80">7</text><text x="1042.00" y="866.80">.</text><text x="1052.12" y="866.80">5</text></g>
<g font-family="&quot;Liberation Serif&quot;, serif" font-size="17.26" font-weight="normal"><text x="1191.06" y="866.80">9</text></g>
<g font-family="&quot;Liberation Serif&quot;, serif" font-size="16.80" font-weight="normal" stroke="#000" stroke-width="0.3"><text transform="translate(708.19,893.05) scale(0.703,1)">T</text><text transform="translate(717.96,893.05) scale(0.632,1)">O</text><text transform="translate(728.09,893.05) scale(0.636,1)">R</text><text transform="translate(737.98,893.05) scale(0.610,1)">Q</text><text transform="translate(748.19,893.05) scale(0.595,1)">U</text><text transform="translate(758.03,893.05) scale(0.761,1)">E</text><text transform="translate(767.17,893.05) scale(1.650,1)">-</text><text transform="translate(777.73,893.05) scale(0.924,1)">g</text><text x="787.50" y="893.05">.</text><text x="798.01" y="893.05">c</text><text transform="translate(808.21,893.05) scale(0.546,1)">m</text></g>
<g font-family="&quot;Liberation Serif&quot;, serif" font-size="17.72" font-weight="normal" stroke="#000" stroke-width="0.35"><text transform="translate(29.59,919.75) scale(0.766,1)">T</text><text transform="translate(39.53,919.75) scale(0.665,1)">H</text><text transform="translate(49.47,919.75) scale(0.830,1)">E</text><text transform="translate(69.40,919.75) scale(0.774,1)">C</text><text transform="translate(79.75,919.75) scale(0.649,1)">U</text><text transform="translate(89.66,919.75) scale(0.694,1)">R</text><text transform="translate(99.92,919.75) scale(0.631,1)">V</text><text transform="translate(109.65,919.75) scale(0.830,1)">E</text><text x="119.05" y="919.75">S</text><text transform="translate(139.81,919.75) scale(0.694,1)">R</text><text transform="translate(149.77,919.75) scale(0.830,1)">E</text><text transform="translate(159.77,919.75) scale(0.906,1)">P</text><text transform="translate(169.90,919.75) scale(0.694,1)">R</text><text transform="translate(179.86,919.75) scale(0.830,1)">E</text><text x="189.26" y="919.75">S</text><text transform="translate(199.92,919.75) scale(0.830,1)">E</text><text transform="translate(210.04,919.75) scale(0.659,1)">N</text><text transform="translate(220.16,919.75) scale(0.766,1)">T</text><text transform="translate(240.22,919.75) scale(0.766,1)">T</text><text transform="translate(250.16,919.75) scale(0.665,1)">H</text><text transform="translate(260.10,919.75) scale(0.830,1)">E</text><text transform="translate(280.34,919.75) scale(0.766,1)">T</text><text transform="translate(290.19,919.75) scale(0.830,1)">E</text><text transform="translate(300.09,919.75) scale(0.774,1)">C</text><text transform="translate(310.34,919.75) scale(0.665,1)">H</text><text transform="translate(320.37,919.75) scale(0.659,1)">N</text><text x="331.69" y="919.75">I</text><text transform="translate(340.21,919.75) scale(0.774,1)">C</text><text transform="translate(350.69,919.75) scale(0.626,1)">A</text><text transform="translate(360.40,919.75) scale(0.846,1)">L</text><text transform="translate(380.33,919.75) scale(0.774,1)">C</text><text transform="translate(390.58,919.75) scale(0.665,1)">H</text><text transform="translate(400.84,919.75) scale(0.626,1)">A</text><text transform="translate(410.62,919.75) scale(0.694,1)">R</text><text transform="translate(420.90,919.75) scale(0.626,1)">A</text><text transform="translate(430.48,919.75) scale(0.774,1)">C</text><text transform="translate(440.82,919.75) scale(0.766,1)">T</text><text transform="translate(450.67,919.75) scale(0.830,1)">E</text><text transform="translate(460.77,919.75) scale(0.694,1)">R</text><text x="472.11" y="919.75">I</text><text x="480.13" y="919.75">S</text><text transform="translate(490.97,919.75) scale(0.766,1)">T</text><text x="502.20" y="919.75">I</text><text transform="translate(510.72,919.75) scale(0.774,1)">C</text><text x="520.25" y="919.75">S</text><text transform="translate(540.87,919.75) scale(0.690,1)">O</text><text transform="translate(550.94,919.75) scale(0.899,1)">F</text><text x="572.41" y="919.75">I</text><text transform="translate(581.15,919.75) scale(0.659,1)">N</text><text transform="translate(591.17,919.75) scale(0.676,1)">D</text><text x="602.50" y="919.75">I</text><text transform="translate(611.45,919.75) scale(0.631,1)">V</text><text x="622.56" y="919.75">I</text><text transform="translate(631.29,919.75) scale(0.676,1)">D</text><text transform="translate(641.43,919.75) scale(0.649,1)">U</text><text transform="translate(651.59,919.75) scale(0.626,1)">A</text><text transform="translate(661.30,919.75) scale(0.846,1)">L</text><text x="680.73" y="919.75">S</text><text transform="translate(691.71,919.75) scale(0.626,1)">A</text><text transform="translate(701.58,919.75) scale(0.531,1)">M</text><text transform="translate(711.42,919.75) scale(0.906,1)">P</text><text transform="translate(721.48,919.75) scale(0.846,1)">L</text><text transform="translate(731.51,919.75) scale(0.830,1)">E</text><text x="740.91" y="919.75">S</text><text transform="translate(761.53,919.75) scale(0.690,1)">O</text><text transform="translate(771.72,919.75) scale(0.659,1)">N</text><text transform="translate(781.66,919.75) scale(0.846,1)">L</text><text transform="translate(791.99,919.75) scale(0.644,1)">Y</text></g>
<g font-family="&quot;Liberation Serif&quot;, serif" font-size="31.15" font-weight="normal" stroke="#000" stroke-width="0.3"><text transform="translate(166.06,981.90) scale(0.911,1)">P</text><text transform="translate(183.11,981.90) scale(1.300,1)">r</text><text transform="translate(198.47,981.90) scale(1.129,1)">e</text><text transform="translate(215.22,981.90) scale(0.999,1)">p</text><text transform="translate(231.25,981.90) scale(1.058,1)">a</text><text transform="translate(248.23,981.90) scale(1.300,1)">r</text><text transform="translate(263.59,981.90) scale(1.129,1)">e</text><text transform="translate(279.73,981.90) scale(0.983,1)">d</text><text transform="translate(313.40,981.90) scale(0.962,1)">b</text><text transform="translate(329.33,981.90) scale(0.918,1)">y</text><text x="348.58" y="981.90">:</text></g>
<g font-family="&quot;Liberation Serif&quot;, serif" font-size="31.15" font-weight="normal" stroke="#000" stroke-width="0.3"><text transform="translate(930.18,981.50) scale(0.779,1)">C</text><text transform="translate(947.19,981.50) scale(0.932,1)">h</text><text transform="translate(962.80,981.50) scale(1.131,1)">e</text><text transform="translate(979.16,981.50) scale(1.116,1)">c</text><text transform="translate(995.82,981.50) scale(0.925,1)">k</text><text transform="translate(1011.70,981.50) scale(1.131,1)">e</text><text transform="translate(1027.86,981.50) scale(0.985,1)">d</text><text transform="translate(1061.57,981.50) scale(0.963,1)">b</text><text transform="translate(1077.52,981.50) scale(0.919,1)">y</text><text x="1096.80" y="981.50">:</text></g>
<g font-family="&quot;Liberation Serif&quot;, serif" font-size="21.38" font-weight="normal" stroke="#000" stroke-width="0.3"><text transform="translate(1227.43,213.98) scale(0.922,1)">P</text><text transform="translate(1238.78,213.98) scale(0.844,1)">E</text><text transform="translate(1250.16,213.98) scale(0.706,1)">R</text><text transform="translate(1261.33,213.98) scale(0.915,1)">F</text><text transform="translate(1272.58,213.98) scale(0.702,1)">O</text><text transform="translate(1284.06,213.98) scale(0.706,1)">R</text><text transform="translate(1295.46,213.98) scale(0.541,1)">M</text><text transform="translate(1306.96,213.98) scale(0.637,1)">A</text><text transform="translate(1317.98,213.98) scale(0.670,1)">N</text><text transform="translate(1329.01,213.98) scale(0.787,1)">C</text><text transform="translate(1340.48,213.98) scale(0.844,1)">E</text></g>
<g font-family="&quot;Liberation Serif&quot;, serif" font-size="21.38" font-weight="normal" stroke="#000" stroke-width="0.3"><text transform="translate(1227.86,251.54) scale(0.637,1)">A</text><text transform="translate(1239.00,251.54) scale(0.780,1)">T</text><text transform="translate(1261.48,251.54) scale(0.670,1)">N</text><text transform="translate(1272.58,251.54) scale(0.702,1)">O</text><text transform="translate(1295.27,251.54) scale(0.861,1)">L</text><text transform="translate(1306.48,251.54) scale(0.702,1)">O</text><text transform="translate(1318.26,251.54) scale(0.637,1)">A</text><text transform="translate(1329.27,251.54) scale(0.688,1)">D</text></g>
<g font-family="&quot;Liberation Serif&quot;, serif" font-size="21.38" font-weight="normal" stroke="#000" stroke-width="0.3"><text transform="translate(1227.86,351.70) scale(0.637,1)">A</text><text transform="translate(1239.00,351.70) scale(0.780,1)">T</text><text x="1260.70" y="351.70">S</text><text transform="translate(1272.90,351.70) scale(0.780,1)">T</text><text transform="translate(1284.36,351.70) scale(0.637,1)">A</text><text transform="translate(1295.27,351.70) scale(0.861,1)">L</text><text transform="translate(1306.57,351.70) scale(0.861,1)">L</text><text transform="translate(1329.18,351.70) scale(0.844,1)">E</text><text transform="translate(1340.69,351.70) scale(0.659,1)">X</text><text transform="translate(1352.00,351.70) scale(0.780,1)">T</text><text transform="translate(1363.16,351.70) scale(0.706,1)">R</text><text transform="translate(1374.76,351.70) scale(0.637,1)">A</text><text transform="translate(1385.63,351.70) scale(0.922,1)">P</text><text transform="translate(1396.88,351.70) scale(0.702,1)">O</text><text transform="translate(1408.27,351.70) scale(0.861,1)">L</text><text transform="translate(1419.96,351.70) scale(0.637,1)">A</text><text transform="translate(1431.10,351.70) scale(0.780,1)">T</text><text x="1443.93" y="351.70">I</text><text transform="translate(1453.38,351.70) scale(0.702,1)">O</text><text transform="translate(1464.88,351.70) scale(0.670,1)">N</text></g>
<g font-family="&quot;Liberation Serif&quot;, serif" font-size="21.38" font-weight="normal" stroke="#000" stroke-width="0.3"><text transform="translate(1227.86,451.86) scale(0.637,1)">A</text><text transform="translate(1239.00,451.86) scale(0.780,1)">T</text><text transform="translate(1261.56,451.86) scale(0.541,1)">M</text><text transform="translate(1273.06,451.86) scale(0.637,1)">A</text><text transform="translate(1284.19,451.86) scale(0.659,1)">X</text><text x="1297.03" y="451.86">I</text><text transform="translate(1306.76,451.86) scale(0.541,1)">M</text><text transform="translate(1318.10,451.86) scale(0.660,1)">U</text><text transform="translate(1329.36,451.86) scale(0.541,1)">M</text><text transform="translate(1351.78,451.86) scale(0.844,1)">E</text><text transform="translate(1363.03,451.86) scale(0.915,1)">F</text><text transform="translate(1374.33,451.86) scale(0.915,1)">F</text><text x="1387.43" y="451.86">I</text><text transform="translate(1396.81,451.86) scale(0.787,1)">C</text><text x="1410.03" y="451.86">I</text><text transform="translate(1419.58,451.86) scale(0.844,1)">E</text><text transform="translate(1430.98,451.86) scale(0.670,1)">N</text><text transform="translate(1442.01,451.86) scale(0.787,1)">C</text><text transform="translate(1453.84,451.86) scale(0.655,1)">Y</text></g>
<g font-family="&quot;Liberation Serif&quot;, serif" font-size="21.38" font-weight="normal" stroke="#000" stroke-width="0.3"><text transform="translate(1227.86,627.14) scale(0.637,1)">A</text><text transform="translate(1239.00,627.14) scale(0.780,1)">T</text><text transform="translate(1261.56,627.14) scale(0.541,1)">M</text><text transform="translate(1273.06,627.14) scale(0.637,1)">A</text><text transform="translate(1284.19,627.14) scale(0.659,1)">X</text><text x="1297.03" y="627.14">I</text><text transform="translate(1306.76,627.14) scale(0.541,1)">M</text><text transform="translate(1318.10,627.14) scale(0.660,1)">U</text><text transform="translate(1329.36,627.14) scale(0.541,1)">M</text><text transform="translate(1351.68,627.14) scale(0.702,1)">O</text><text transform="translate(1363.30,627.14) scale(0.660,1)">U</text><text transform="translate(1374.60,627.14) scale(0.780,1)">T</text><text transform="translate(1385.63,627.14) scale(0.922,1)">P</text><text transform="translate(1397.20,627.14) scale(0.660,1)">U</text><text transform="translate(1408.50,627.14) scale(0.780,1)">T</text></g>
<g font-family="&quot;Liberation Serif&quot;, serif" font-size="17.26" font-weight="normal"><text x="1325.88" y="287.50">S</text><text transform="translate(1334.78,287.50) scale(0.979,1)">P</text><text transform="translate(1343.50,287.50) scale(0.897,1)">E</text><text transform="translate(1352.17,287.50) scale(0.897,1)">E</text><text transform="translate(1360.92,287.50) scale(0.731,1)">D</text></g>
<g font-family="&quot;Liberation Serif&quot;, serif" font-size="17.26" font-weight="normal"><text transform="translate(1387.33,287.50) scale(0.918,1)">=</text></g>
<g font-family="&quot;Liberation Serif&quot;, serif" font-size="17.26" font-weight="normal"><text x="1412.85" y="287.50">1</text><text x="1421.64" y="287.50">6</text><text x="1430.43" y="287.50">0</text><text x="1439.10" y="287.50">0</text><text x="1447.77" y="287.50">0</text></g>
<g font-family="&quot;Liberation Serif&quot;, serif" font-size="17.26" font-weight="normal"><text transform="translate(1515.71,287.50) scale(0.750,1)">R</text><text transform="translate(1524.26,287.50) scale(0.979,1)">P</text><text transform="translate(1533.14,287.50) scale(0.574,1)">M</text></g>
<g font-family="&quot;Liberation Serif&quot;, serif" font-size="17.26" font-weight="normal"><text transform="translate(1308.67,312.54) scale(0.836,1)">C</text><text transform="translate(1317.68,312.54) scale(0.702,1)">U</text><text transform="translate(1326.23,312.54) scale(0.750,1)">R</text><text transform="translate(1334.90,312.54) scale(0.750,1)">R</text><text transform="translate(1343.50,312.54) scale(0.897,1)">E</text><text transform="translate(1352.26,312.54) scale(0.712,1)">N</text><text transform="translate(1361.02,312.54) scale(0.828,1)">T</text></g>
<g font-family="&quot;Liberation Serif&quot;, serif" font-size="17.26" font-weight="normal"><text transform="translate(1387.33,312.54) scale(0.918,1)">=</text></g>
<g font-family="&quot;Liberation Serif&quot;, serif" font-size="17.26" font-weight="normal"><text x="1413.09" y="312.54">0</text><text x="1422.01" y="312.54">.</text><text x="1430.43" y="312.54">0</text><text x="1439.06" y="312.54">4</text><text x="1447.77" y="312.54">0</text></g>
<g font-family="&quot;Liberation Serif&quot;, serif" font-size="17.26" font-weight="normal"><text transform="translate(1515.97,312.54) scale(0.677,1)">A</text><text transform="translate(1524.47,312.54) scale(0.574,1)">M</text><text transform="translate(1532.93,312.54) scale(0.979,1)">P</text></g>
<g font-family="&quot;Liberation Serif&quot;, serif" font-size="17.26" font-weight="normal"><text transform="translate(1317.67,387.66) scale(0.828,1)">T</text><text transform="translate(1326.07,387.66) scale(0.746,1)">O</text><text transform="translate(1334.90,387.66) scale(0.750,1)">R</text><text transform="translate(1343.43,387.66) scale(0.719,1)">Q</text><text transform="translate(1352.36,387.66) scale(0.702,1)">U</text><text transform="translate(1360.84,387.66) scale(0.897,1)">E</text></g>
<g font-family="&quot;Liberation Serif&quot;, serif" font-size="17.26" font-weight="normal"><text transform="translate(1387.33,387.66) scale(0.918,1)">=</text></g>
<g font-family="&quot;Liberation Serif&quot;, serif" font-size="17.26" font-weight="normal"><text x="1412.77" y="387.66">7</text><text x="1422.01" y="387.66">.</text><text x="1430.52" y="387.66">2</text><text x="1439.10" y="387.66">0</text><text x="1447.77" y="387.66">0</text></g>
<g font-family="&quot;Liberation Serif&quot;, serif" font-size="17.26" font-weight="normal"><text transform="translate(1515.56,387.66) scale(0.734,1)">G</text><text x="1524.81" y="387.66">.</text><text transform="translate(1532.83,387.66) scale(0.836,1)">C</text><text transform="translate(1541.81,387.66) scale(0.574,1)">M</text></g>
<g font-family="&quot;Liberation Serif&quot;, serif" font-size="17.26" font-weight="normal"><text transform="translate(1308.67,412.70) scale(0.836,1)">C</text><text transform="translate(1317.68,412.70) scale(0.702,1)">U</text><text transform="translate(1326.23,412.70) scale(0.750,1)">R</text><text transform="translate(1334.90,412.70) scale(0.750,1)">R</text><text transform="translate(1343.50,412.70) scale(0.897,1)">E</text><text transform="translate(1352.26,412.70) scale(0.712,1)">N</text><text transform="translate(1361.02,412.70) scale(0.828,1)">T</text></g>
<g font-family="&quot;Liberation Serif&quot;, serif" font-size="17.26" font-weight="normal"><text transform="translate(1387.33,412.70) scale(0.918,1)">=</text></g>
<g font-family="&quot;Liberation Serif&quot;, serif" font-size="17.26" font-weight="normal"><text x="1413.09" y="412.70">0</text><text x="1422.01" y="412.70">.</text><text x="1430.39" y="412.70">4</text><text x="1438.93" y="412.70">5</text><text x="1447.77" y="412.70">0</text></g>
<g font-family="&quot;Liberation Serif&quot;, serif" font-size="17.26" font-weight="normal"><text transform="translate(1515.97,412.70) scale(0.677,1)">A</text><text transform="translate(1524.47,412.70) scale(0.574,1)">M</text><text transform="translate(1532.93,412.70) scale(0.979,1)">P</text></g>
<g font-family="&quot;Liberation Serif&quot;, serif" font-size="17.26" font-weight="normal"><text transform="translate(1282.81,487.82) scale(0.897,1)">E</text><text transform="translate(1291.44,487.82) scale(0.972,1)">F</text><text transform="translate(1300.11,487.82) scale(0.972,1)">F</text><text x="1310.50" y="487.82">I</text><text transform="translate(1317.34,487.82) scale(0.836,1)">C</text><text x="1327.84" y="487.82">I</text><text transform="translate(1334.83,487.82) scale(0.897,1)">E</text><text transform="translate(1343.59,487.82) scale(0.712,1)">N</text><text transform="translate(1352.02,487.82) scale(0.836,1)">C</text><text transform="translate(1361.15,487.82) scale(0.696,1)">Y</text></g>
<g font-family="&quot;Liberation Serif&quot;, serif" font-size="17.26" font-weight="normal"><text transform="translate(1387.33,487.82) scale(0.918,1)">=</text></g>
<g font-family="&quot;Liberation Serif&quot;, serif" font-size="17.26" font-weight="normal"><text x="1413.05" y="487.82">4</text><text x="1421.85" y="487.82">2</text><text x="1430.68" y="487.82">.</text><text x="1438.86" y="487.82">1</text><text x="1447.53" y="487.82">1</text><text x="1456.44" y="487.82">0</text></g>
<g font-family="&quot;Liberation Serif&quot;, serif" font-size="17.26" font-weight="normal"><text transform="translate(1515.71,487.82) scale(0.624,1)">%</text></g>
<g font-family="&quot;Liberation Serif&quot;, serif" font-size="17.26" font-weight="normal"><text x="1325.88" y="512.86">S</text><text transform="translate(1334.78,512.86) scale(0.979,1)">P</text><text transform="translate(1343.50,512.86) scale(0.897,1)">E</text><text transform="translate(1352.17,512.86) scale(0.897,1)">E</text><text transform="translate(1360.92,512.86) scale(0.731,1)">D</text></g>
<g font-family="&quot;Liberation Serif&quot;, serif" font-size="17.26" font-weight="normal"><text transform="translate(1387.33,512.86) scale(0.918,1)">=</text></g>
<g font-family="&quot;Liberation Serif&quot;, serif" font-size="17.26" font-weight="normal"><text x="1412.85" y="512.86">1</text><text x="1421.85" y="512.86">2</text><text x="1430.35" y="512.86">3</text><text x="1439.19" y="512.86">2</text><text x="1447.77" y="512.86">0</text></g>
<g font-family="&quot;Liberation Serif&quot;, serif" font-size="17.26" font-weight="normal"><text transform="translate(1515.71,512.86) scale(0.750,1)">R</text><text transform="translate(1524.26,512.86) scale(0.979,1)">P</text><text transform="translate(1533.14,512.86) scale(0.574,1)">M</text></g>
<g font-family="&quot;Liberation Serif&quot;, serif" font-size="17.26" font-weight="normal"><text transform="translate(1317.67,537.90) scale(0.828,1)">T</text><text transform="translate(1326.07,537.90) scale(0.746,1)">O</text><text transform="translate(1334.90,537.90) scale(0.750,1)">R</text><text transform="translate(1343.43,537.90) scale(0.719,1)">Q</text><text transform="translate(1352.36,537.90) scale(0.702,1)">U</text><text transform="translate(1360.84,537.90) scale(0.897,1)">E</text></g>
<g font-family="&quot;Liberation Serif&quot;, serif" font-size="17.26" font-weight="normal"><text transform="translate(1387.33,537.90) scale(0.918,1)">=</text></g>
<g font-family="&quot;Liberation Serif&quot;, serif" font-size="17.26" font-weight="normal"><text x="1412.85" y="537.90">1</text><text x="1422.01" y="537.90">.</text><text x="1430.31" y="537.90">6</text><text x="1438.93" y="537.90">5</text><text x="1447.65" y="537.90">6</text></g>
<g font-family="&quot;Liberation Serif&quot;, serif" font-size="17.26" font-weight="normal"><text transform="translate(1515.56,537.90) scale(0.734,1)">G</text><text x="1524.81" y="537.90">.</text><text transform="translate(1532.83,537.90) scale(0.836,1)">C</text><text transform="translate(1541.81,537.90) scale(0.574,1)">M</text></g>
<g font-family="&quot;Liberation Serif&quot;, serif" font-size="17.26" font-weight="normal"><text transform="translate(1308.67,562.94) scale(0.836,1)">C</text><text transform="translate(1317.68,562.94) scale(0.702,1)">U</text><text transform="translate(1326.23,562.94) scale(0.750,1)">R</text><text transform="translate(1334.90,562.94) scale(0.750,1)">R</text><text transform="translate(1343.50,562.94) scale(0.897,1)">E</text><text transform="translate(1352.26,562.94) scale(0.712,1)">N</text><text transform="translate(1361.02,562.94) scale(0.828,1)">T</text></g>
<g font-family="&quot;Liberation Serif&quot;, serif" font-size="17.26" font-weight="normal"><text transform="translate(1387.33,562.94) scale(0.918,1)">=</text></g>
<g font-family="&quot;Liberation Serif&quot;, serif" font-size="17.26" font-weight="normal"><text x="1413.09" y="562.94">0</text><text x="1422.01" y="562.94">.</text><text x="1430.19" y="562.94">1</text><text x="1439.02" y="562.94">3</text><text x="1447.73" y="562.94">4</text></g>
<g font-family="&quot;Liberation Serif&quot;, serif" font-size="17.26" font-weight="normal"><text transform="translate(1515.97,562.94) scale(0.677,1)">A</text><text transform="translate(1524.47,562.94) scale(0.574,1)">M</text><text transform="translate(1532.93,562.94) scale(0.979,1)">P</text></g>
<g font-family="&quot;Liberation Serif&quot;, serif" font-size="17.26" font-weight="normal"><text transform="translate(1317.40,587.98) scale(0.746,1)">O</text><text transform="translate(1326.35,587.98) scale(0.702,1)">U</text><text transform="translate(1335.01,587.98) scale(0.828,1)">T</text><text transform="translate(1343.45,587.98) scale(0.979,1)">P</text><text transform="translate(1352.36,587.98) scale(0.702,1)">U</text><text transform="translate(1361.02,587.98) scale(0.828,1)">T</text></g>
<g font-family="&quot;Liberation Serif&quot;, serif" font-size="17.26" font-weight="normal"><text transform="translate(1387.33,587.98) scale(0.918,1)">=</text></g>
<g font-family="&quot;Liberation Serif&quot;, serif" font-size="17.26" font-weight="normal"><text x="1413.09" y="587.98">0</text><text x="1422.01" y="587.98">.</text><text x="1430.52" y="587.98">2</text><text x="1439.10" y="587.98">0</text><text x="1447.84" y="587.98">9</text></g>
<g font-family="&quot;Liberation Serif&quot;, serif" font-size="17.26" font-weight="normal"><text transform="translate(1516.07,587.98) scale(0.507,1)">W</text><text transform="translate(1524.64,587.98) scale(0.677,1)">A</text><text transform="translate(1533.16,587.98) scale(0.828,1)">T</text><text transform="translate(1541.83,587.98) scale(0.828,1)">T</text><text x="1550.04" y="587.98">S</text></g>
<g font-family="&quot;Liberation Serif&quot;, serif" font-size="17.26" font-weight="normal"><text transform="translate(1282.81,663.10) scale(0.897,1)">E</text><text transform="translate(1291.44,663.10) scale(0.972,1)">F</text><text transform="translate(1300.11,663.10) scale(0.972,1)">F</text><text x="1310.50" y="663.10">I</text><text transform="translate(1317.34,663.10) scale(0.836,1)">C</text><text x="1327.84" y="663.10">I</text><text transform="translate(1334.83,663.10) scale(0.897,1)">E</text><text transform="translate(1343.59,663.10) scale(0.712,1)">N</text><text transform="translate(1352.02,663.10) scale(0.836,1)">C</text><text transform="translate(1361.15,663.10) scale(0.696,1)">Y</text></g>
<g font-family="&quot;Liberation Serif&quot;, serif" font-size="17.26" font-weight="normal"><text transform="translate(1387.33,663.10) scale(0.918,1)">=</text></g>
<g font-family="&quot;Liberation Serif&quot;, serif" font-size="17.26" font-weight="normal"><text x="1413.01" y="663.10">3</text><text x="1421.85" y="663.10">2</text><text x="1430.68" y="663.10">.</text><text x="1438.93" y="663.10">5</text><text x="1447.77" y="663.10">8</text><text x="1456.27" y="663.10">5</text></g>
<g font-family="&quot;Liberation Serif&quot;, serif" font-size="17.26" font-weight="normal"><text transform="translate(1515.71,663.10) scale(0.624,1)">%</text></g>
<g font-family="&quot;Liberation Serif&quot;, serif" font-size="17.26" font-weight="normal"><text x="1325.88" y="688.14">S</text><text transform="translate(1334.78,688.14) scale(0.979,1)">P</text><text transform="translate(1343.50,688.14) scale(0.897,1)">E</text><text transform="translate(1352.17,688.14) scale(0.897,1)">E</text><text transform="translate(1360.92,688.14) scale(0.731,1)">D</text></g>
<g font-family="&quot;Liberation Serif&quot;, serif" font-size="17.26" font-weight="normal"><text transform="translate(1387.33,688.14) scale(0.918,1)">=</text></g>
<g font-family="&quot;Liberation Serif&quot;, serif" font-size="17.26" font-weight="normal"><text x="1413.09" y="688.14">8</text><text x="1421.76" y="688.14">0</text><text x="1430.43" y="688.14">0</text><text x="1439.10" y="688.14">0</text></g>
<g font-family="&quot;Liberation Serif&quot;, serif" font-size="17.26" font-weight="normal"><text transform="translate(1515.71,688.14) scale(0.750,1)">R</text><text transform="translate(1524.26,688.14) scale(0.979,1)">P</text><text transform="translate(1533.14,688.14) scale(0.574,1)">M</text></g>
<g font-family="&quot;Liberation Serif&quot;, serif" font-size="17.26" font-weight="normal"><text transform="translate(1317.67,713.18) scale(0.828,1)">T</text><text transform="translate(1326.07,713.18) scale(0.746,1)">O</text><text transform="translate(1334.90,713.18) scale(0.750,1)">R</text><text transform="translate(1343.43,713.18) scale(0.719,1)">Q</text><text transform="translate(1352.36,713.18) scale(0.702,1)">U</text><text transform="translate(1360.84,713.18) scale(0.897,1)">E</text></g>
<g font-family="&quot;Liberation Serif&quot;, serif" font-size="17.26" font-weight="normal"><text transform="translate(1387.33,713.18) scale(0.918,1)">=</text></g>
<g font-family="&quot;Liberation Serif&quot;, serif" font-size="17.26" font-weight="normal"><text x="1413.01" y="713.18">3</text><text x="1422.01" y="713.18">.</text><text x="1430.31" y="713.18">6</text><text x="1439.10" y="713.18">0</text><text x="1447.77" y="713.18">0</text></g>
<g font-family="&quot;Liberation Serif&quot;, serif" font-size="17.26" font-weight="normal"><text transform="translate(1515.56,713.18) scale(0.734,1)">G</text><text x="1524.81" y="713.18">.</text><text transform="translate(1532.83,713.18) scale(0.836,1)">C</text><text transform="translate(1541.81,713.18) scale(0.574,1)">M</text></g>
<g font-family="&quot;Liberation Serif&quot;, serif" font-size="17.26" font-weight="normal"><text transform="translate(1308.67,738.22) scale(0.836,1)">C</text><text transform="translate(1317.68,738.22) scale(0.702,1)">U</text><text transform="translate(1326.23,738.22) scale(0.750,1)">R</text><text transform="translate(1334.90,738.22) scale(0.750,1)">R</text><text transform="translate(1343.50,738.22) scale(0.897,1)">E</text><text transform="translate(1352.26,738.22) scale(0.712,1)">N</text><text transform="translate(1361.02,738.22) scale(0.828,1)">T</text></g>
<g font-family="&quot;Liberation Serif&quot;, serif" font-size="17.26" font-weight="normal"><text transform="translate(1387.33,738.22) scale(0.918,1)">=</text></g>
<g font-family="&quot;Liberation Serif&quot;, serif" font-size="17.26" font-weight="normal"><text x="1413.09" y="738.22">0</text><text x="1422.01" y="738.22">.</text><text x="1430.52" y="738.22">2</text><text x="1439.06" y="738.22">4</text><text x="1447.60" y="738.22">5</text></g>
<g font-family="&quot;Liberation Serif&quot;, serif" font-size="17.26" font-weight="normal"><text transform="translate(1515.97,738.22) scale(0.677,1)">A</text><text transform="translate(1524.47,738.22) scale(0.574,1)">M</text><text transform="translate(1532.93,738.22) scale(0.979,1)">P</text></g>
<g font-family="&quot;Liberation Serif&quot;, serif" font-size="17.26" font-weight="normal"><text transform="translate(1317.40,763.26) scale(0.746,1)">O</text><text transform="translate(1326.35,763.26) scale(0.702,1)">U</text><text transform="translate(1335.01,763.26) scale(0.828,1)">T</text><text transform="translate(1343.45,763.26) scale(0.979,1)">P</text><text transform="translate(1352.36,763.26) scale(0.702,1)">U</text><text transform="translate(1361.02,763.26) scale(0.828,1)">T</text></g>
<g font-family="&quot;Liberation Serif&quot;, serif" font-size="17.26" font-weight="normal"><text transform="translate(1387.33,763.26) scale(0.918,1)">=</text></g>
<g font-family="&quot;Liberation Serif&quot;, serif" font-size="17.26" font-weight="normal"><text x="1413.09" y="763.26">0</text><text x="1422.01" y="763.26">.</text><text x="1430.52" y="763.26">2</text><text x="1439.17" y="763.26">9</text><text x="1447.60" y="763.26">5</text></g>
<g font-family="&quot;Liberation Serif&quot;, serif" font-size="17.26" font-weight="normal"><text transform="translate(1516.07,763.26) scale(0.507,1)">W</text><text transform="translate(1524.64,763.26) scale(0.677,1)">A</text><text transform="translate(1533.16,763.26) scale(0.828,1)">T</text><text transform="translate(1541.83,763.26) scale(0.828,1)">T</text><text x="1550.04" y="763.26">S</text></g></svg>
</body></html>
